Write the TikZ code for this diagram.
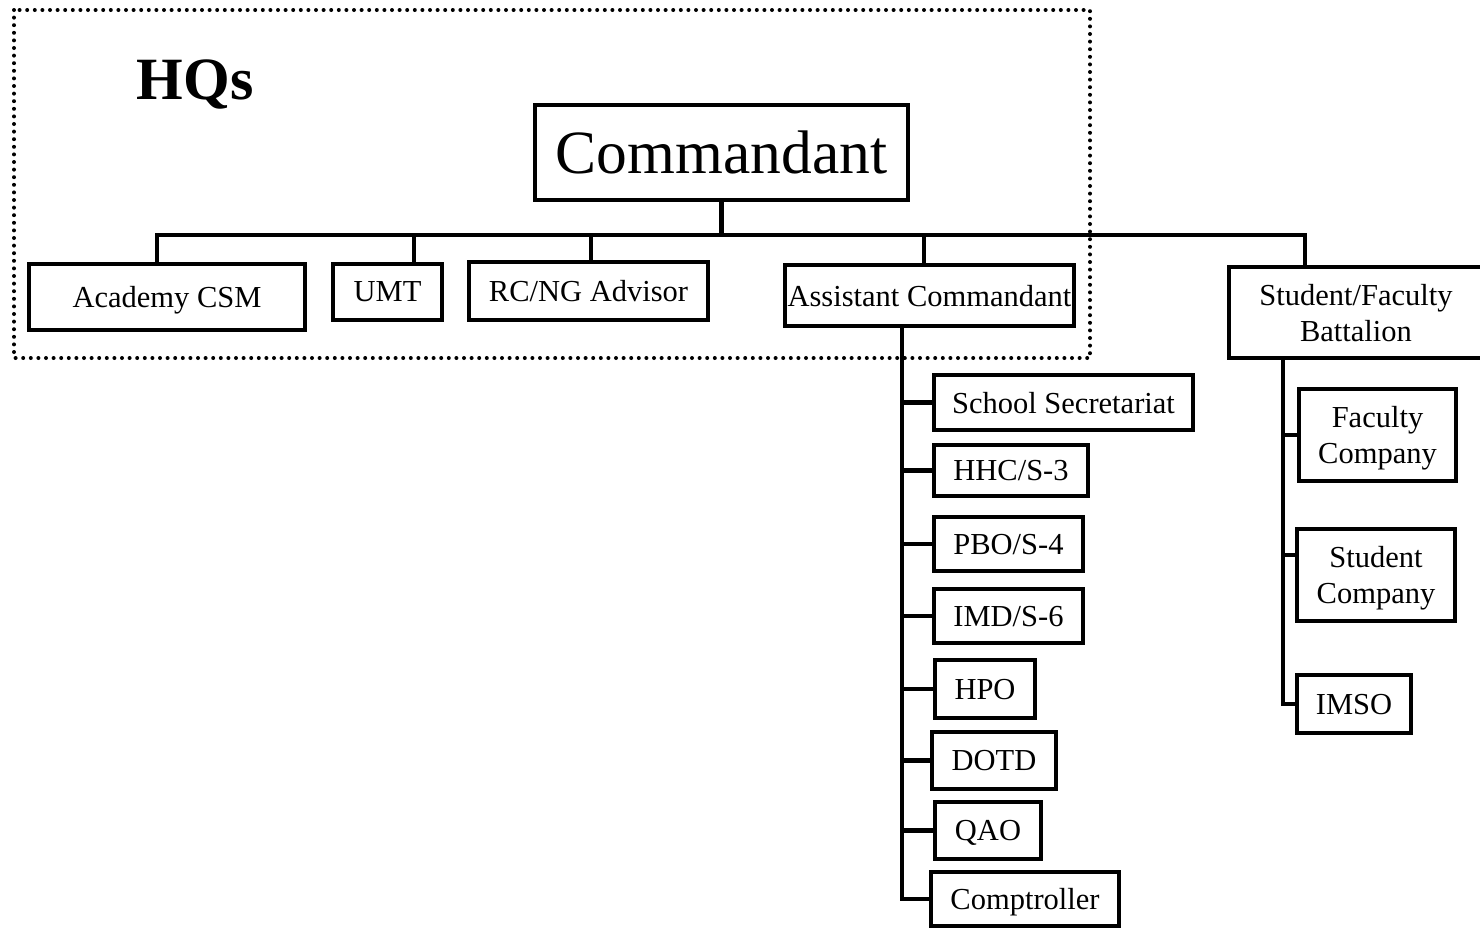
\documentclass[tikz,border=0pt]{standalone}
\usepackage{fontspec}
\setmainfont{Liberation Serif}
\usetikzlibrary{calc}
\tikzset{
  box/.style={draw, line width=4.4pt, inner sep=0pt, outer sep=0pt, align=center,
    text depth=0pt, font=\fontsize{30.5}{36}\selectfont},
  link/.style={line width=4.4pt},
  hqframe/.style={line width=4pt, dash pattern=on 0pt off 7.6pt, line cap=round},
}
\begin{document}
\begin{tikzpicture}[x=1pt,y=-1pt]
\useasboundingbox (0,0) rectangle (1480,930);
% HQ dotted frame
\draw[hqframe] (14,10) rectangle (1090,358);
\node[font=\fontsize{60}{60}\selectfont\bfseries] (hq) at (195,84) {HQs};
% boxes
\node[box, minimum width=373, minimum height=95, font=\fontsize{61.5}{62}\selectfont] (cmd) at (721.5,152.5) {Commandant};
\node[box, minimum width=276, minimum height=66] (csm) at (167,297) {Academy CSM};
\node[box, minimum width=109, minimum height=56] (umt) at (387.5,292) {UMT};
\node[box, minimum width=239, minimum height=58] (rcng) at (588.5,291) {RC/NG Advisor};
\node[box, minimum width=289, minimum height=61] (ac) at (929.5,295.5) {Assistant Commandant};
\node[box, minimum width=254, minimum height=91] (sfb) at (1356,312.5) {Student/Faculty\\Battalion};
\node[box, minimum width=259, minimum height=55] (ss) at (1063.5,402.5) {School Secretariat};
\node[box, minimum width=154, minimum height=51] (hhc) at (1011,470.5) {HHC/S-3};
\node[box, minimum width=149, minimum height=54] (pbo) at (1008.5,544) {PBO/S-4};
\node[box, minimum width=149, minimum height=54] (imd) at (1008.5,616) {IMD/S-6};
\node[box, minimum width=100, minimum height=58] (hpo) at (985,689) {HPO};
\node[box, minimum width=124, minimum height=57] (dotd) at (994,760.5) {DOTD};
\node[box, minimum width=106, minimum height=57] (qao) at (988,830.5) {QAO};
\node[box, minimum width=188, minimum height=54] (comp) at (1025,899) {Comptroller};
\node[box, minimum width=157, minimum height=92] (fac) at (1377.5,435) {Faculty\\Company};
\node[box, minimum width=158, minimum height=92] (stu) at (1376,575) {Student\\Company};
\node[box, minimum width=114, minimum height=58] (imso) at (1354,704) {IMSO};
% bus coordinates
\coordinate (b1) at (157,235);
\coordinate (b2) at (414,235);
\coordinate (b3) at (591,235);
\coordinate (b4) at (924,235);
\coordinate (b6) at (1305,235);
\coordinate (acx) at (902,0);
\coordinate (sfx) at (1283,0);
% connectors
\draw[link] (cmd.south) -- (cmd.south |- b1);
\draw[link] (b1 |- csm.north) -- (b1) -- (b6) -- (b6 |- sfb.north);
\draw[link] (b2) -- (b2 |- umt.north);
\draw[link] (b3) -- (b3 |- rcng.north);
\draw[link] (b4) -- (b4 |- ac.north);
\draw[link] (acx |- ac.south) -- (acx |- comp.west) -- (comp.west);
\foreach \n in {ss,hhc,pbo,imd,hpo,dotd,qao}
  \draw[link] (acx |- \n.west) -- (\n.west);
\draw[link] (sfx |- sfb.south) -- (sfx |- imso.west) -- (imso.west);
\draw[link] (sfx |- fac.west) -- (fac.west);
\draw[link] ($(stu.west)+(0,-20)$) coordinate (stuw) -- (sfx |- stuw);
\end{tikzpicture}
\end{document}
